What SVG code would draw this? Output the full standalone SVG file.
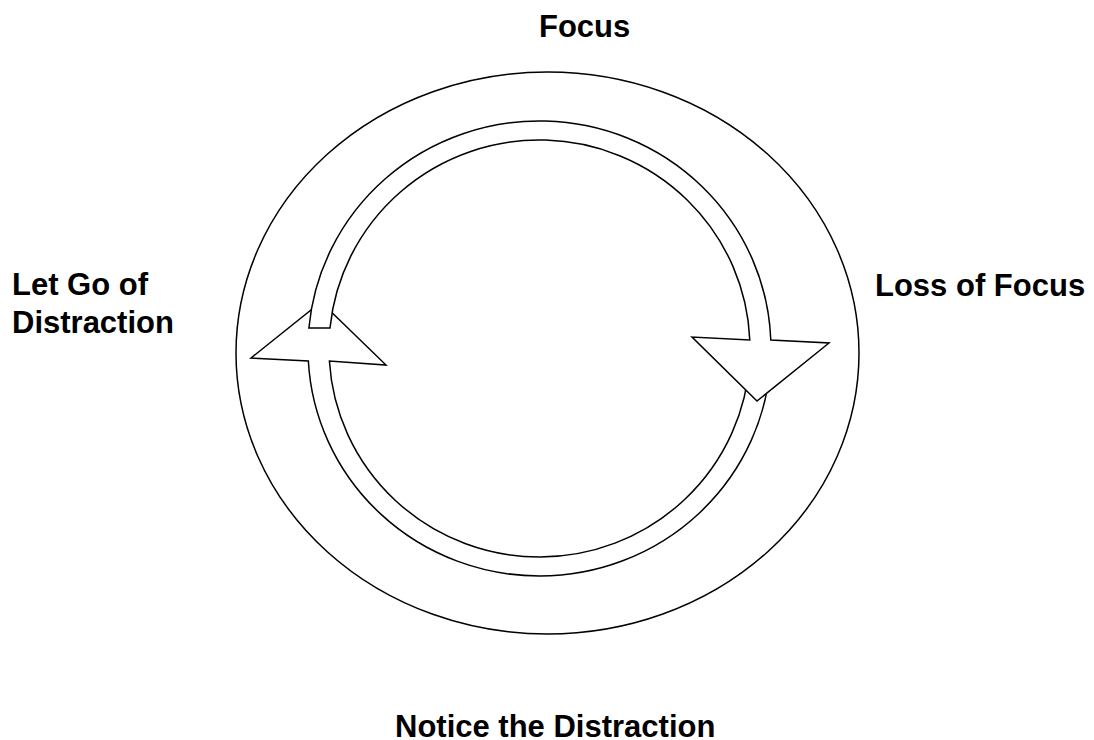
<svg xmlns="http://www.w3.org/2000/svg" width="1094" height="740" viewBox="0 0 1094 740">
  <style>
    .shape { fill: #ffffff; stroke: #000000; stroke-width: 1.5; stroke-linejoin: miter; }
    .label { font-family: "Liberation Sans", Arial, sans-serif; font-weight: bold; font-size: 31px; fill: #000000; }
  </style>
  <rect x="0" y="0" width="1094" height="740" fill="#ffffff"/>
  <g id="outer-ring">
    <ellipse class="shape" cx="547.5" cy="353" rx="311.5" ry="281"/>
  </g>
  <g id="connectors">
    <path id="arc-bottom" class="shape" d="M 770.7,360 A 231.5 227.5 0 0 1 308.35,361 L 251,358 L 321,302 L 386,365 L 329.4,361 A 210.5 208.5 0 0 0 749.7,360 Z"/>
    <path id="arc-top" class="shape" d="M 308.9,328 A 231.5 227.5 0 0 1 770.8,340 L 829,343 L 757,401 L 692,337 L 749.8,340 A 210.5 208.5 0 0 0 330,328 Z"/>
  </g>
  <g id="node-focus">
    <text class="label" x="539" y="37">Focus</text>
  </g>
  <g id="node-loss">
    <text class="label" x="875" y="296">Loss of Focus</text>
  </g>
  <g id="node-notice">
    <text class="label" x="395" y="737">Notice the Distraction</text>
  </g>
  <g id="node-letgo">
    <text class="label" x="12" y="295">Let Go of</text>
    <text class="label" x="12" y="333">Distraction</text>
  </g>
</svg>
